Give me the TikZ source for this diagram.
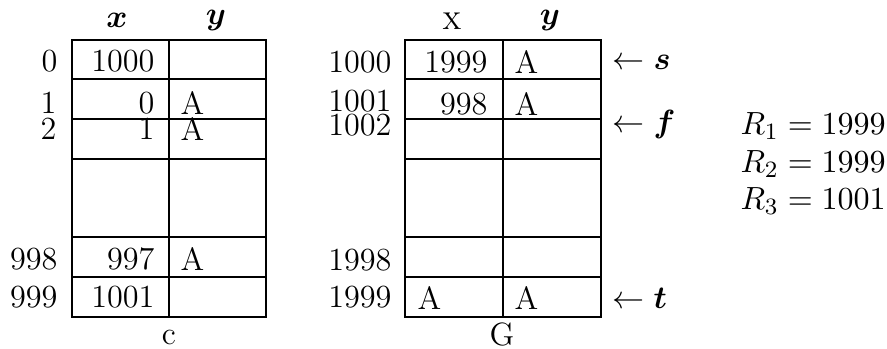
\documentclass[tikz,border=0pt]{standalone}
\usepackage{amsmath,amssymb}
\usepackage{bm}
\usepackage{tikz}
\usetikzlibrary{positioning}
\tikzset{
    tabline/.style={
        line width=1pt
    }
}
\tikzset{
    rowlabel/.style={
        anchor=east,
        inner sep=0pt
    }
}
\tikzset{
    xcell/.style={
        anchor=east,
        inner sep=0pt
    }
}
\tikzset{
    ycell/.style={
        anchor=west,
        inner sep=0pt
    }
}
\tikzset{
    colhead/.style={
        inner sep=0pt
    }
}
\tikzset{
    pointer/.style={
        anchor=west,
        inner sep=0pt
    }
}

\begin{document}
\begin{tikzpicture}[
    x=0.12mm,
    y=-0.12mm,
    font=\fontsize{11}{13}\selectfont
]

\useasboundingbox (0,0) rectangle (887,348);

% ------------------------------------------------------------
% Table c
% ------------------------------------------------------------

\draw[tabline] (72,40) rectangle (266,317);
\draw[tabline] (169,40) -- (169,317);
\foreach \yy in {79,119,159,237,277}
    \draw[tabline] (72,\yy) -- (266,\yy);

\node[colhead] (cx) at (117,20) {$\bm{x}$};
\node[colhead] (cy) at (216,20) {$\bm{y}$};

\node[rowlabel] (c0) at (58,61) {0};
\node[rowlabel] (c1) at (57,103) {1};
\node[rowlabel] (c2) at (57,129) {2};
\node[rowlabel] (c998) at (58,259) {998};
\node[rowlabel] (c999) at (58,297) {999};

\node[xcell] (cx0) at (155,61) {1000};
\node[xcell] (cx1) at (155,103) {0};
\node[xcell] (cx2) at (155,129) {1};
\node[xcell] (cx998) at (155,259) {997};
\node[xcell] (cx999) at (155,297) {1001};

\node[ycell] (cy1) at (180,103) {A};
\node[ycell] (cy2) at (180,129) {A};
\node[ycell] (cy998) at (180,259) {A};

\node[inner sep=0pt] (cname) at (169,337) {c};

% ------------------------------------------------------------
% Table G
% ------------------------------------------------------------

\draw[tabline] (405,40) rectangle (601,317);
\draw[tabline] (503,40) -- (503,317);
\foreach \yy in {79,119,159,237,277}
    \draw[tabline] (405,\yy) -- (601,\yy);

\node[colhead] (gx) at (452,21) {\textsc{x}};
\node[colhead] (gy) at (550,20) {$\bm{y}$};

\node[rowlabel] (g1000) at (392,62) {1000};
\node[rowlabel] (g1001) at (392,101) {1001};
\node[rowlabel] (g1002) at (392,125) {1002};
\node[rowlabel] (g1998) at (392,260) {1998};
\node[rowlabel] (g1999) at (392,297) {1999};

\node[xcell] (gx1000) at (488,62) {1999};
\node[xcell] (gx1001) at (488,104) {998};
\node[ycell] (gx1999) at (417,298) {A};

\node[ycell] (gy1000) at (514,62) {A};
\node[ycell] (gy1001) at (514,104) {A};
\node[ycell] (gy1999) at (514,298) {A};

\node[inner sep=0pt] (gname) at (502,334) {G};

% ------------------------------------------------------------
% Pointers
% ------------------------------------------------------------

\node[pointer] (ps) at (612,62) {$\leftarrow \bm{s}$};
\node[pointer] (pf) at (612,124) {$\leftarrow \bm{f}$};
\node[pointer] (pt) at (612,298) {$\leftarrow \bm{t}$};

% ------------------------------------------------------------
% Registers
% ------------------------------------------------------------

\node[pointer] (r1) at (740,126) {$R_1 = 1999$};
\node[pointer] (r2) at (740,164) {$R_2 = 1999$};
\node[pointer] (r3) at (740,201) {$R_3 = 1001$};

\end{tikzpicture}
\end{document}
